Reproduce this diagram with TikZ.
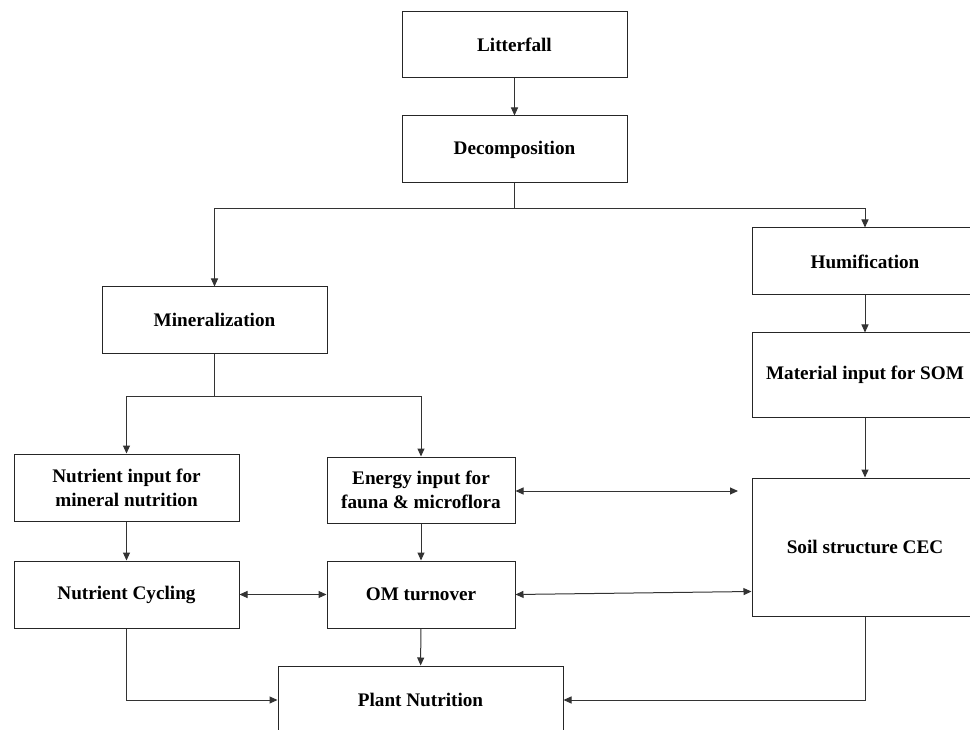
\documentclass[tikz,border=0pt]{standalone}
\usepackage{fontspec}
\setmainfont{Liberation Serif}
\usetikzlibrary{arrows.meta,calc}
\tikzset{
  box/.style={draw=black!85, line width=1pt, rectangle, inner sep=0pt, align=center,
    font=\bfseries\fontsize{19.2}{24}\selectfont, text=black},
  conn/.style={draw=black!80, line width=1pt},
  arr/.style={conn, -{Triangle[length=8pt,width=7pt]}},
  darr/.style={conn, {Triangle[length=8pt,width=7pt]}-{Triangle[length=8pt,width=7pt]}}
}
\begin{document}
\begin{tikzpicture}[x=1pt,y=-1pt]
\useasboundingbox (0,0) rectangle (970,730);
\clip (0,0) rectangle (970,730);
% nodes
\node[box, minimum width=225pt, minimum height=66pt] (lit) at (514.5,45) {Litterfall};
\node[box, minimum width=225pt, minimum height=67pt] (dec) at (514.5,149.5) {Decomposition};
\node[box, minimum width=225pt, minimum height=66pt] (min) at (214.5,320) {Mineralization};
\node[box, minimum width=226pt, minimum height=67pt] (hum) at (865,261.5) {Humification};
\node[box, minimum width=226pt, minimum height=84pt] (mat) at (865,375) {Material input for SOM};
\node[box, minimum width=225pt, minimum height=67pt] (nin) at (126.5,487.5) {Nutrient input for\\mineral nutrition};
\node[box, minimum width=188pt, minimum height=66pt] (ein) at (421,490) {Energy input for\\fauna \& microflora};
\node[box, minimum width=226pt, minimum height=138pt] (soil) at (865,547) {Soil structure CEC};
\node[box, minimum width=225pt, minimum height=67pt] (ncy) at (126.5,594.5) {Nutrient Cycling};
\node[box, minimum width=188pt, minimum height=67pt] (omt) at (421,594.5) {OM turnover};
\node[box, minimum width=285pt, minimum height=68pt] (pln) at (420.5,700) {Plant Nutrition};
% split points
\coordinate (s1) at (514.5,209);
\coordinate (s2) at (214.5,396);
\coordinate (e1) at (738,491);
% connectors
\draw[arr] (lit) -- (dec);
\draw[conn] (dec.south) -- (s1);
\draw[arr] (s1) -| (min.north);
\draw[arr] (s1) -| (hum.north);
\draw[arr] (hum) -- (mat);
\draw[arr] (mat) -- (soil);
\draw[conn] (min.south) -- (s2);
\draw[arr] (s2) -| (nin.north);
\draw[arr] (s2) -| (ein.north);
\draw[arr] (nin) -- (ncy);
\draw[arr] (ein) -- (omt);
\draw[arr] (omt) -- (pln);
\draw[darr] (ncy) -- (omt);
\draw[darr] (ein.east |- e1) -- (e1);
\draw[darr] (omt.east) -- ($(soil.south west)+(0,-25)$);
\draw[arr] (ncy.south) |- (pln.west);
\draw[arr] (soil.south) |- (pln.east);
\end{tikzpicture}
\end{document}
